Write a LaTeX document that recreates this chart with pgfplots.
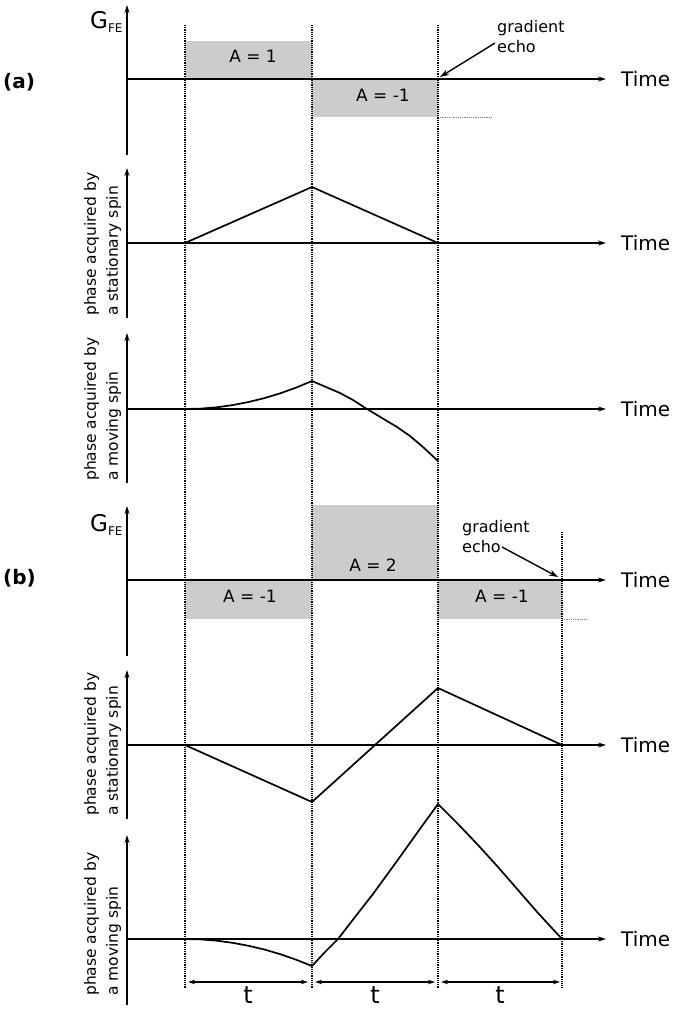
\documentclass[border=0pt]{standalone}
\usepackage{pgfplots}
\pgfplotsset{compat=1.18}
\usepackage{fontspec}
\setmainfont{DejaVu Sans}
\usetikzlibrary{arrows.meta}
\definecolor{boxgray}{RGB}{204,204,204}
\tikzset{
  ax/.style={black, line width=1.6pt, -{Stealth[length=8pt,width=5pt]}},
  crv/.style={black, line width=1.7pt, no markers},
  vdot/.style={black, line width=1.3pt, dash pattern=on 1.1pt off 1.1pt, no markers},
  gdot/.style={gray, line width=1pt, dash pattern=on 1.1pt off 1.1pt, no markers},
  box/.style={fill=boxgray, draw=none, no markers},
  tarr/.style={black, line width=1.3pt, {Stealth[length=7pt,width=4.5pt]}-{Stealth[length=7pt,width=4.5pt]}, no markers},
  lab/.style={rotate=90, anchor=north west, align=left, inner sep=0pt, font=\fontsize{15.5}{22}\selectfont},
  tm/.style={anchor=west, inner sep=0pt, font=\fontsize{20}{20}\selectfont},
  al/.style={inner sep=0pt, font=\fontsize{17}{17}\selectfont},
}
\newcommand{\GFE}{{\fontsize{23}{23}\selectfont G}\raisebox{-4pt}{\fontsize{12}{12}\selectfont FE}}
\begin{document}
\begin{tikzpicture}
\begin{axis}[scale only axis, width=675pt, height=1010pt,
  xmin=0, xmax=675, ymin=0, ymax=1010, y dir=reverse,
  hide axis, clip=false]
\addplot[draw=none, no markers] coordinates {(0,0) (675,1010)};
% gradient boxes
\addplot[box] coordinates {(185,41) (312,41) (312,79) (185,79)};
\addplot[box] coordinates {(312,79) (438,79) (438,117) (312,117)};
\addplot[box] coordinates {(185,580) (312,580) (312,619) (185,619)};
\addplot[box] coordinates {(312,505) (438,505) (438,580) (312,580)};
\addplot[box] coordinates {(438,580) (562,580) (562,619) (438,619)};
\addplot[gdot] coordinates {(438,117) (492,117)};
\addplot[gdot] coordinates {(562,619) (588,619)};
% dotted verticals
\addplot[vdot] coordinates {(185,25) (185,988)};
\addplot[vdot] coordinates {(312,25) (312,988)};
\addplot[vdot] coordinates {(438,25) (438,988)};
\addplot[vdot] coordinates {(562,532) (562,988)};
% axes
\addplot[ax] coordinates {(127,155) (127,5)};
\addplot[ax] coordinates {(127,79) (606,79)};
\addplot[ax] coordinates {(127,318) (127,168)};
\addplot[ax] coordinates {(127,243) (606,243)};
\addplot[ax] coordinates {(127,483) (127,333)};
\addplot[ax] coordinates {(127,409) (606,409)};
\addplot[ax] coordinates {(127,656) (127,506)};
\addplot[ax] coordinates {(127,580) (606,580)};
\addplot[ax] coordinates {(127,819) (127,670)};
\addplot[ax] coordinates {(127,745) (606,745)};
\addplot[ax] coordinates {(127,1005) (127,835)};
\addplot[ax] coordinates {(127,939) (606,939)};
% phase curves (a)
\addplot[crv] coordinates {(185,243) (312,187) (438,243)};
\addplot[crv] coordinates {(185,409) (200.9,408.6) (216.8,407.3) (232.6,405.1) (248.5,402) (264.4,398.1) (280.3,393.3) (296.1,387.6) (312,381)
  (326,387) (340,393) (353,400) (367,409) (382,418) (397,427) (410,436) (423,447) (438,461)};
% phase curves (b)
\addplot[crv] coordinates {(185,745) (312,802) (438,688) (562,745)};
\addplot[crv] coordinates {(185,939) (200.9,939.4) (216.8,940.7) (232.6,942.8) (248.5,945.8) (264.4,949.5) (280.3,954.2) (296.1,959.7) (312,966)
  (325,952) (338,939) (355,917) (373,894) (397,861) (417,833) (438,804)
  (458,824) (478,845) (498,867) (518,890) (538,913) (562,939)};
% t arrows
\addplot[tarr] coordinates {(188,982) (308,982)};
\addplot[tarr] coordinates {(315,982) (435,982)};
\addplot[tarr] coordinates {(441,982) (560,982)};
% echo arrows
\addplot[black, line width=1.4pt, no markers, -{Stealth[length=9pt,width=6pt]}] coordinates {(495,43) (440,77)};
\addplot[black, line width=1.4pt, no markers, -{Stealth[length=9pt,width=6pt]}] coordinates {(502,547) (558,577)};
% texts
\node[font=\bfseries\fontsize{20}{20}\selectfont, anchor=west, inner sep=0pt] at (3,82) {(a)};
\node[font=\bfseries\fontsize{20}{20}\selectfont, anchor=west, inner sep=0pt] at (3,578) {(b)};
\node[anchor=west, inner sep=0pt] at (90,22) {\GFE};
\node[anchor=west, inner sep=0pt] at (90,525) {\GFE};
\node[al] at (253,56) {A = 1};
\node[al] at (383,95) {A = -1};
\node[al] at (250,596) {A = -1};
\node[al] at (373,565) {A = 2};
\node[al] at (502,596) {A = -1};
\node[anchor=north west, align=left, inner sep=0pt, font=\fontsize{16}{20}\selectfont] at (497,20) {gradient\\echo};
\node[anchor=north west, align=left, inner sep=0pt, font=\fontsize{16}{20}\selectfont] at (462,520) {gradient\\echo};
\node[tm] at (621,79) {Time};
\node[tm] at (621,243) {Time};
\node[tm] at (621,409) {Time};
\node[tm] at (621,580) {Time};
\node[tm] at (621,745) {Time};
\node[tm] at (621,939) {Time};
\node[lab] at (84,316) {phase acquired by\\a stationary spin};
\node[lab] at (84,481) {phase acquired by\\a moving spin};
\node[lab] at (84,816) {phase acquired by\\a stationary spin};
\node[lab] at (84,996) {phase acquired by\\a moving spin};
\node[font=\fontsize{24}{24}\selectfont, inner sep=0pt] at (248,995) {t};
\node[font=\fontsize{24}{24}\selectfont, inner sep=0pt] at (375,995) {t};
\node[font=\fontsize{24}{24}\selectfont, inner sep=0pt] at (500,995) {t};
\end{axis}
\end{tikzpicture}
\end{document}
